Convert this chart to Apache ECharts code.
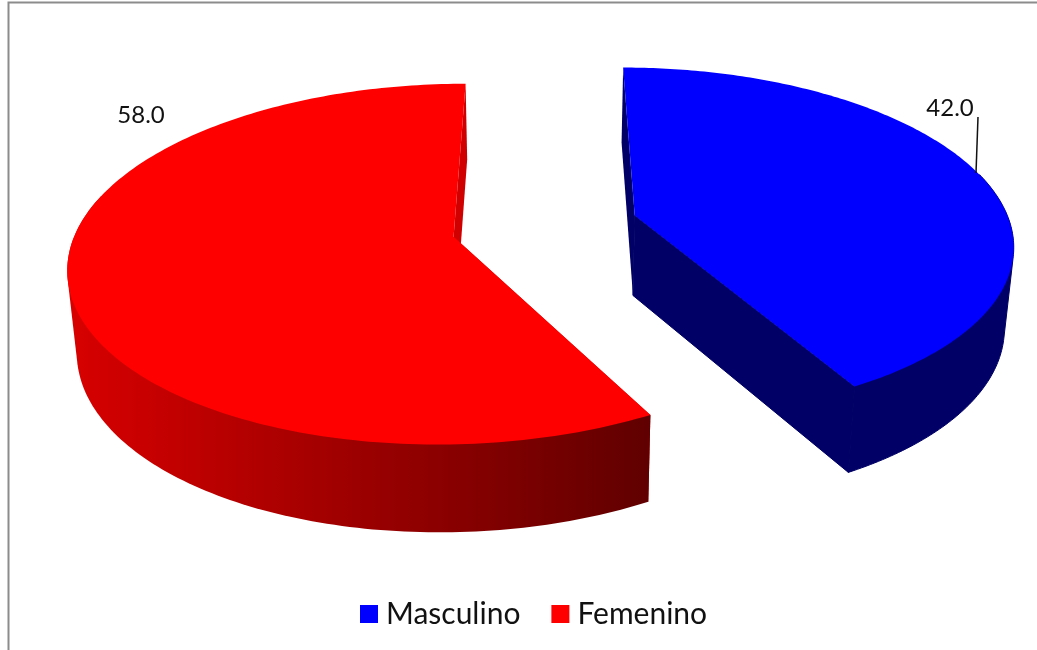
<!DOCTYPE html>
<html><head><meta charset="utf-8">
<style>html,body{margin:0;padding:0;background:#fff}#c{width:1037px;height:650px}</style>
<script src="https://cdn.jsdelivr.net/npm/echarts@6/dist/echarts.min.js"></script>
</head><body><div id="c"></div>
<script>
const categories = ['Masculino', 'Femenino'];
const values = [42.0, 58.0];
const topColors = ['#0000ff', '#ff0000'];

const VX = 545, VY = 226, R = 376, K = 173, P = 0.15, EXPLODE = 0.2487;
const total = values.reduce((s, v) => s + v, 0);
const fontFamily = 'Lato, "Open Sans", sans-serif';

function proj(a, b) {
  const w = 1 / (1 - P * b);
  return [VX + R * a * w, VY + K * b * w];
}
function lower(p) {
  return [VX + (p[0] - VX) * 0.98, p[1] + 80 + (p[1] - 214) * 0.034];
}
function hull(points) {
  const pts = points.slice().sort((p, q) => p[0] - q[0] || p[1] - q[1]);
  const cross = (o, p, q) => (p[0] - o[0]) * (q[1] - o[1]) - (p[1] - o[1]) * (q[0] - o[0]);
  const chain = list => {
    const out = [];
    for (const p of list) {
      while (out.length > 1 && cross(out[out.length - 2], out[out.length - 1], p) <= 0) out.pop();
      out.push(p);
    }
    out.pop();
    return out;
  };
  return chain(pts).concat(chain(pts.slice().reverse()));
}
const wallStyles = [
  { inner: '#000066', outer: '#000066', edge: '#000066' },
  {
    inner: '#d00000',
    outer: new echarts.graphic.LinearGradient(67, 0, 650, 0, [
      { offset: 0, color: '#d80000' },
      { offset: 1, color: '#600000' }
    ], true),
    edge: null
  }
];
const labelStyles = [
  { x: 950, y: 108, leader: [[978, 117], [976, 173]] },
  { x: 141, y: 115 }
];

function makeRender(idx) {
  return function (params, api) {
    const value = api.value(0);
    let before = 0;
    for (let i = 0; i < idx; i++) before += values[i];
    const t0 = before / total * Math.PI * 2;
    const t1 = t0 + value / total * Math.PI * 2;
    const mid = (t0 + t1) / 2;
    const ax = Math.sin(mid) * EXPLODE, ay = -Math.cos(mid) * EXPLODE;
    const apex = proj(ax, ay);
    const arc = [], front = [];
    const n = 200;
    for (let i = 0; i <= n; i++) {
      const t = t0 + (t1 - t0) * i / n;
      const pt = proj(ax + Math.sin(t), ay - Math.cos(t));
      arc.push(pt);
      if (-Math.cos(t) > -0.25) front.push(pt);
    }
    const first = arc[0], last = arc[n];
    const s = wallStyles[idx];
    const wallPts = hull(front.concat(front.map(lower)));
    const edgeStyle = s.edge ? { stroke: s.edge, lineWidth: 1 } : {};
    const children = [
      { type: 'polygon', silent: true, shape: { points: [apex, first, lower(first), lower(apex)] }, style: { fill: s.inner } },
      { type: 'polygon', silent: true, shape: { points: [apex, last, lower(last), lower(apex)] }, style: Object.assign({ fill: s.edge || s.inner }, edgeStyle) },
      { type: 'polygon', silent: true, shape: { points: wallPts }, style: Object.assign({ fill: s.outer }, edgeStyle) },
      { type: 'polygon', silent: true, shape: { points: [apex].concat(arc) }, style: { fill: topColors[idx] } }
    ];
    const lab = labelStyles[idx];
    children.push({
      type: 'text', silent: true,
      style: { text: value.toFixed(1), x: lab.x, y: lab.y, align: 'center', verticalAlign: 'middle',
        font: '24px ' + fontFamily, fill: '#111' }
    });
    if (lab.leader) {
      children.push({
        type: 'line', silent: true,
        shape: { x1: lab.leader[0][0], y1: lab.leader[0][1], x2: lab.leader[1][0], y2: lab.leader[1][1] },
        style: { stroke: '#111', lineWidth: 1.5 }
      });
    }
    return { type: 'group', children };
  };
}

const chart = echarts.init(document.getElementById('c'), null, { renderer: 'canvas' });
chart.setOption({
  animation: false,
  backgroundColor: '#ffffff',
  legend: {
    data: categories, left: 355, top: 594, icon: 'rect', itemWidth: 18, itemHeight: 18, itemGap: 31,
    selectedMode: false,
    textStyle: { fontFamily, fontSize: 30, color: '#111', padding: [0, 0, 0, 3] }
  },
  graphic: [
    { type: 'polyline', silent: true, shape: { points: [[8.5, 650], [8.5, 2.5], [1037, 2.5]] },
      style: { stroke: '#8c8c8c', lineWidth: 2, fill: null } }
  ],
  series: categories.map((name, i) => ({
    type: 'custom', name, coordinateSystem: 'none',
    itemStyle: { color: topColors[i] },
    renderItem: makeRender(i),
    data: [[values[i]]]
  }))
});
</script></body></html>
